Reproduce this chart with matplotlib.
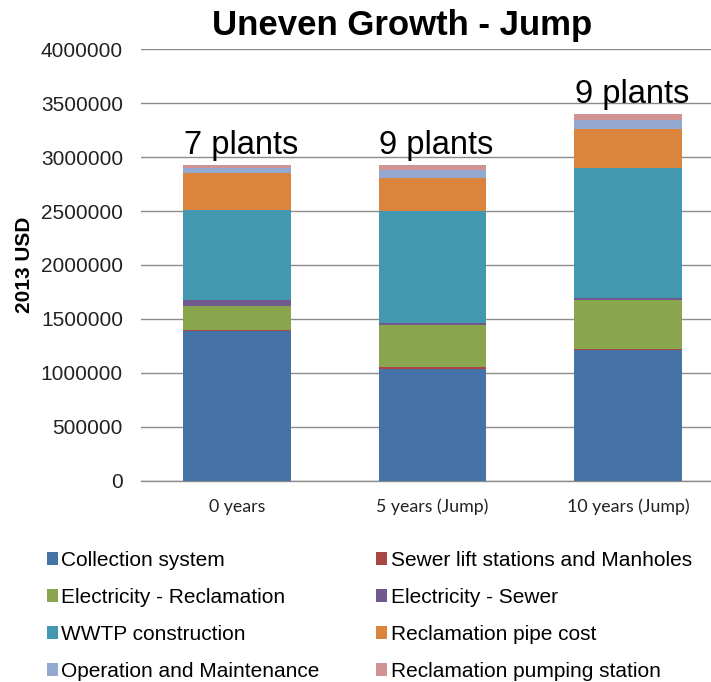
import numpy as np
import matplotlib.pyplot as plt
from matplotlib.patches import Patch
from matplotlib.ticker import FuncFormatter

# cost breakdown per scenario (2013 USD)
scenarios = ['0 years', '5 years (Jump)', '10 years (Jump)']
plant_labels = ['7 plants', '9 plants', '9 plants']

collection = [1390000, 1040000, 1210000]
sewer_lift = [10000, 10000, 10000]
elec_reclamation = [216000, 397000, 458000]
elec_sewer = [62000, 12000, 19000]
wwtp = [828000, 1041000, 1203000]
reclamation_pipe = [349000, 310000, 362000]
operation = [45000, 70000, 78000]
pumping = [25000, 50000, 60000]

series = [
    ('Collection system', collection, '#4572A7'),
    ('Sewer lift stations and Manholes', sewer_lift, '#AA4643'),
    ('Electricity - Reclamation', elec_reclamation, '#89A54E'),
    ('Electricity - Sewer', elec_sewer, '#71588F'),
    ('WWTP construction', wwtp, '#4198AF'),
    ('Reclamation pipe cost', reclamation_pipe, '#DB843D'),
    ('Operation and Maintenance', operation, '#93A9CF'),
    ('Reclamation pumping station', pumping, '#D19392'),
]

W, H = 711, 682
fig = plt.figure(figsize=(W / 100, H / 100), dpi=100)
ax = fig.add_axes([141 / W, (H - 480.7) / H, (711 - 141) / W, 431.4 / H])

x = np.arange(len(scenarios))
bottom = np.zeros(len(scenarios))
for name, vals, color in series:
    ax.bar(x, vals, width=0.55, bottom=bottom, color=color, label=name,
           edgecolor='none', zorder=3)
    bottom += np.array(vals)

for xi, total, lab in zip(x, bottom, plant_labels):
    ax.annotate(lab, (xi + 0.02, total), xytext=(0, 3), textcoords='offset points',
                ha='center', va='bottom', fontsize=23.5, family='Liberation Sans')

ax.set_xlim(-0.491, 2.4245)
ax.set_ylim(0, 4000000)
ax.set_yticks(np.arange(0, 4000001, 500000))
ax.yaxis.set_major_formatter(FuncFormatter(lambda v, p: f'{int(v)}'))
ax.yaxis.grid(True, color='#8c8c8c', linewidth=1.0, zorder=0)
ax.set_axisbelow(True)
for s in ['left', 'right', 'top']:
    ax.spines[s].set_visible(False)
ax.spines['bottom'].set_color('#8c8c8c')
ax.spines['bottom'].set_linewidth(1.0)
ax.tick_params(axis='both', length=0)
ax.tick_params(axis='y', pad=13)
ax.tick_params(axis='x', pad=13)
ax.set_xticks(x)
ax.set_xticklabels(scenarios, fontsize=12.8, family='Lato', color='#222222')
for t in ax.get_yticklabels():
    t.set_fontsize(15)
    t.set_family('Liberation Sans')
    t.set_color('#222222')

fig.text(25 / W, 1 - 265 / H, '2013 USD', rotation=90, ha='center', va='center',
         fontsize=15, fontweight='bold', family='Liberation Sans')
fig.text(402 / W, 1 - 25 / H, 'Uneven Growth - Jump', ha='center', va='center',
         fontsize=25, fontweight='bold', family='Liberation Sans')

# legend filled row by row
handles = [Patch(facecolor=c, label=n) for n, _, c in series]
order = [0, 2, 4, 6, 1, 3, 5, 7]
fig.legend([handles[i] for i in order], [handles[i].get_label() for i in order],
           ncol=2, loc='upper left', bbox_to_anchor=(28 / W, 1 - 532 / H),
           frameon=False, prop={'family': 'Liberation Sans', 'size': 15},
           handlelength=0.55, handleheight=0.55, handletextpad=0.15,
           labelspacing=0.87, columnspacing=2.7)

fig.savefig('out.png', dpi=100)
